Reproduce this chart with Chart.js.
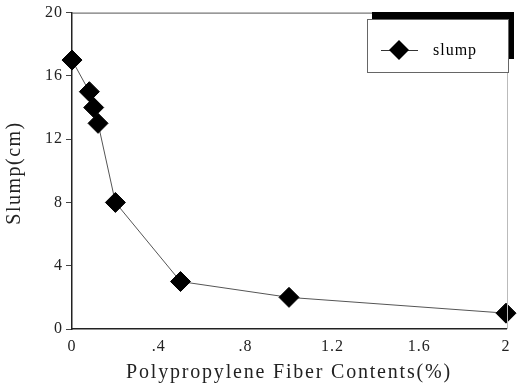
<!DOCTYPE html>
<html><head><meta charset="utf-8">
<script src="https://cdn.jsdelivr.net/npm/chart.js@4/dist/chart.umd.min.js"></script>
<style>html,body{margin:0;padding:0;background:#fff;}#wrap{width:518px;height:387px;}</style>
</head><body><div id="wrap"><canvas id="c" width="518" height="387"></canvas></div>
<script>
const fiberContents = [0, 0.08, 0.1, 0.12, 0.2, 0.5, 1.0, 2.0];
const slumpValues = [17, 15, 14, 13, 8, 3, 2, 1];
const xTicks = [0, 0.4, 0.8, 1.2, 1.6, 2];
const yTicks = [0, 4, 8, 12, 16, 20];
const seriesName = 'slump';
const xTitle = 'Polypropylene Fiber Contents(%)';
const yTitle = 'Slump(cm)';

const serif = "'Liberation Serif','DejaVu Serif',serif";

const framePlugin = {
  id: 'frame',
  beforeDraw(chart) {
    chart.ctx.letterSpacing = '1px';
  },
  afterDraw(chart) {
    const {ctx, chartArea: a} = chart;
    ctx.save();
    ctx.strokeStyle = '#555';
    ctx.lineWidth = 1;
    ctx.beginPath();
    ctx.moveTo(a.left, a.top + 0.5); ctx.lineTo(a.right + 2, a.top + 0.5);
    ctx.stroke();
    ctx.strokeStyle = '#bbb';
    ctx.beginPath();
    ctx.moveTo(a.right + 1.5, a.top); ctx.lineTo(a.right + 1.5, a.bottom);
    ctx.stroke();
    // legend box with shadow
    const bx = 367, by = 19, bw = 141, bh = 53;
    ctx.fillStyle = '#000';
    ctx.fillRect(bx + 5, by - 7, bw + 1, 7);
    ctx.fillRect(bx + bw, by - 7, 6, bh - 6);
    ctx.fillStyle = '#fff';
    ctx.fillRect(bx, by, bw, bh);
    ctx.strokeStyle = '#666';
    ctx.strokeRect(bx + 0.5, by + 0.5, bw, bh);
    const ds = chart.data.datasets[0];
    const my = 50;
    ctx.strokeStyle = '#333';
    ctx.beginPath(); ctx.moveTo(381, my + 0.5); ctx.lineTo(418, my + 0.5); ctx.stroke();
    ctx.fillStyle = '#000';
    ctx.beginPath();
    ctx.moveTo(389, my); ctx.lineTo(399, my - 10); ctx.lineTo(409, my); ctx.lineTo(399, my + 10); ctx.closePath(); ctx.fill();
    ctx.font = '16px ' + serif;
    ctx.letterSpacing = '1px';
    ctx.textBaseline = 'middle';
    ctx.textAlign = 'left';
    ctx.fillText(ds.label, 433, my + 1);
    // axis titles
    ctx.fillStyle = '#222';
    ctx.font = '20px ' + serif;
    ctx.letterSpacing = '1.8px';
    ctx.textAlign = 'center';
    ctx.fillText(xTitle, (a.left + a.right) / 2, 373);
    ctx.save();
    ctx.translate(15, 173);
    ctx.rotate(-Math.PI / 2);
    ctx.letterSpacing = '1.5px';
    ctx.fillText(yTitle, 0, 0);
    ctx.restore();
    ctx.restore();
  }
};

new Chart(document.getElementById('c'), {
  type: 'scatter',
  data: {
    datasets: [{
      label: seriesName,
      data: fiberContents.map((x, i) => ({x, y: slumpValues[i]})),
      showLine: true,
      borderColor: '#555',
      borderWidth: 1,
      pointStyle: 'rectRot',
      pointRadius: 10,
      pointHoverRadius: 10,
      pointBackgroundColor: '#000',
      pointBorderColor: '#000',
      clip: false
    }]
  },
  options: {
    responsive: false,
    animation: false,
    events: [],
    layout: {padding: {top: 12, right: 4, left: 0, bottom: 0}},
    plugins: {legend: {display: false}, tooltip: {enabled: false}},
    scales: {
      x: {
        type: 'linear', min: 0, max: 2,
        afterBuildTicks: s => { s.ticks = xTicks.map(v => ({value: v})); },
        afterFit: s => { s.height = 58; },
        ticks: {
          color: '#222', font: {family: serif, size: 16}, padding: 8,
          callback: v => v === 0 ? '0' : (v < 1 ? String(v).replace(/^0/, '') : String(v))
        },
        grid: {drawOnChartArea: false, drawTicks: false, color: '#333'},
        border: {color: '#222', width: 1.5}
      },
      y: {
        type: 'linear', min: 0, max: 20,
        afterBuildTicks: s => { s.ticks = yTicks.map(v => ({value: v})); },
        afterFit: s => { s.width = 72; },
        ticks: {color: '#222', font: {family: serif, size: 16}, padding: 3},
        grid: {drawOnChartArea: false, drawTicks: true, tickLength: 6, color: '#444'},
        border: {color: '#222', width: 1.5}
      }
    }
  },
  plugins: [framePlugin]
});
</script></body></html>
